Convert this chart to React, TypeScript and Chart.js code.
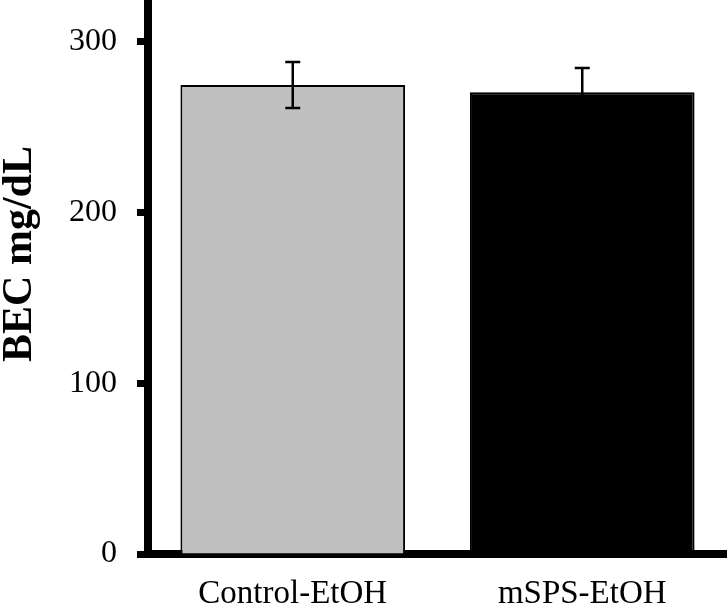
import React, { useEffect, useRef } from 'react';
import { Chart, registerables } from 'chart.js';

Chart.register(...registerables);

// values
const groups = ['Control-EtOH', 'mSPS-EtOH'];
const meanBEC = [274.8, 270.6];
const semBEC = [13.5, 14.2];
const barColors = ['#c0c0c0', '#000000'];
const yTicks = [0, 100, 200, 300];
const yTitle = 'BEC mg/dL';

const SERIF = '"Liberation Serif", "Times New Roman", serif';

// error bars (mean ± SEM) drawn on top of the bars
const errorBars = {
  id: 'errorBars',
  afterDatasetsDraw(chart: any) {
    const { ctx } = chart;
    const y = chart.scales.y;
    const meta = chart.getDatasetMeta(0);
    ctx.save();
    ctx.strokeStyle = '#000';
    ctx.lineWidth = 2.5;
    meta.data.forEach((bar: any, i: number) => {
      const top = y.getPixelForValue(meanBEC[i] + semBEC[i]);
      const bottom = y.getPixelForValue(meanBEC[i] - semBEC[i]);
      ctx.beginPath();
      ctx.moveTo(bar.x, top);
      ctx.lineTo(bar.x, bottom);
      ctx.moveTo(bar.x - 7.5, top);
      ctx.lineTo(bar.x + 7.5, top);
      ctx.moveTo(bar.x - 7.5, bottom);
      ctx.lineTo(bar.x + 7.5, bottom);
      ctx.stroke();
    });
    ctx.restore();
  },
};

// rotated y axis title
const yAxisTitle = {
  id: 'yAxisTitle',
  afterDraw(chart: any) {
    const { ctx } = chart;
    ctx.save();
    ctx.translate(20, 254);
    ctx.rotate(-Math.PI / 2);
    ctx.font = `bold 42px ${SERIF}`;
    ctx.fillStyle = '#000';
    ctx.textAlign = 'center';
    ctx.textBaseline = 'middle';
    ctx.fillText(yTitle, 0, 0);
    ctx.restore();
  },
};

export default function App() {
  const canvasRef = useRef<HTMLCanvasElement | null>(null);

  useEffect(() => {
    if (!canvasRef.current) return;
    const chart = new Chart(canvasRef.current, {
      type: 'bar',
      data: {
        labels: groups,
        datasets: [
          {
            data: meanBEC,
            backgroundColor: barColors,
            borderColor: '#000',
            borderWidth: 2,
            barPercentage: 1,
            categoryPercentage: 0.776,
          },
        ],
      },
      options: {
        animation: false,
        responsive: true,
        maintainAspectRatio: false,
        layout: { padding: 0 },
        plugins: {
          legend: { display: false },
          tooltip: { enabled: false },
        },
        scales: {
          x: {
            z: 1,
            grid: { display: false },
            border: { display: true, color: '#000', width: 8 },
            ticks: {
              color: '#000',
              padding: 13,
              maxRotation: 0,
              autoSkip: false,
              font: { family: SERIF, size: 33 },
            },
            afterFit: (s: any) => {
              s.height = 52;
              s.paddingLeft = 0;
              s.paddingRight = 0;
            },
          },
          y: {
            z: 1,
            min: 0,
            max: 324.6,
            afterBuildTicks: (s: any) => {
              s.ticks = yTicks.map((v) => ({ value: v }));
            },
            grid: {
              drawOnChartArea: false,
              drawTicks: true,
              tickLength: 11,
              tickWidth: 7,
              tickColor: '#000',
            },
            border: { display: true, color: '#000', width: 8 },
            ticks: {
              color: '#000',
              padding: 20,
              font: { family: SERIF, size: 32 },
            },
            afterFit: (s: any) => {
              s.width = 148;
              s.paddingTop = 0;
              s.paddingBottom = 0;
            },
          },
        },
      },
      plugins: [errorBars, yAxisTitle],
    });
    return () => chart.destroy();
  }, []);

  return (
    <div style={{ position: 'fixed', left: 0, top: 0, width: 727, height: 606, background: '#fff' }}>
      <canvas ref={canvasRef}></canvas>
    </div>
  );
}
